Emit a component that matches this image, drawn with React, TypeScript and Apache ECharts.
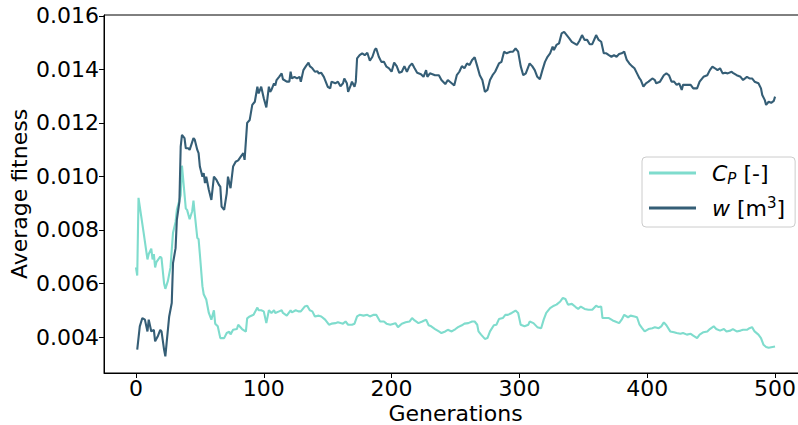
import React, { useEffect, useRef } from "react";
import * as echarts from "echarts";

const xTicks = [0, 100, 200, 300, 400, 500];
const yTicks = [0.004, 0.006, 0.008, 0.01, 0.012, 0.014, 0.016];

const cpGen = [0,1,2,6,9,10,12,13,14,15,16,19,20,22,23,25,27,29,31,32,35,36,39,40,42,44,45,46,48,49,50,52,53,55,57,59,61,62,64,66,69,71,73,74,76,79,80,83,86,87,89,92,95,96,98,100,102,104,106,108,109,112,114,115,118,121,122,125,127,129,132,134,136,138,140,143,145,148,151,153,156,158,162,164,166,169,171,173,175,178,181,183,186,188,191,194,196,199,203,205,208,211,214,216,218,221,224,227,229,231,234,237,239,242,244,247,250,252,255,257,260,263,265,267,268,270,273,275,277,280,282,284,287,289,291,294,297,299,301,304,307,308,311,314,317,319,321,324,327,329,332,334,336,338,341,344,346,348,351,354,357,360,362,364,365,368,370,373,375,378,380,382,385,387,390,392,394,396,398,401,404,406,409,411,413,415,418,421,423,426,428,431,434,436,439,441,444,447,449,452,454,457,460,462,465,467,470,473,475,478,480,482,484,487,489,491,493,495,498,500];
const cpVal = [0.0066,0.0063,0.0092,0.0079,0.0069,0.0071,0.0073,0.0069,0.0071,0.0066,0.0068,0.007,0.00695,0.006,0.0058,0.0061,0.0066,0.0079,0.0083,0.00875,0.0093,0.0104,0.0088,0.00875,0.0084,0.0087,0.0091,0.0086,0.0077,0.00766,0.0071,0.0059,0.0056,0.0054,0.0049,0.00465,0.005,0.0045,0.0044,0.00396,0.00396,0.00415,0.0042,0.0041,0.00427,0.0043,0.00446,0.0043,0.0042,0.0047,0.00477,0.00483,0.0051,0.005,0.005,0.00496,0.00452,0.005,0.0049,0.005,0.0049,0.00496,0.005,0.0049,0.0048,0.005,0.00492,0.005,0.00496,0.00496,0.00514,0.00517,0.005,0.00496,0.00477,0.0048,0.00477,0.00465,0.00446,0.0045,0.00452,0.00455,0.0045,0.00458,0.00446,0.00446,0.0045,0.00477,0.00483,0.0048,0.00483,0.00477,0.00483,0.00483,0.00458,0.00458,0.0045,0.00446,0.00452,0.00437,0.0045,0.00455,0.00458,0.00471,0.00462,0.00452,0.00458,0.00465,0.00444,0.0044,0.0043,0.00421,0.00415,0.00421,0.00427,0.00421,0.0043,0.00437,0.00444,0.0045,0.00452,0.00458,0.00458,0.00446,0.00421,0.00409,0.00393,0.00396,0.00421,0.00444,0.00446,0.00467,0.00471,0.00483,0.00483,0.0049,0.00499,0.0049,0.00446,0.0044,0.00446,0.00458,0.00452,0.00437,0.00433,0.00465,0.0049,0.00508,0.00517,0.00521,0.00533,0.00546,0.00542,0.00521,0.00524,0.00512,0.00505,0.00514,0.00505,0.00502,0.00502,0.00517,0.00512,0.00514,0.00471,0.00471,0.00471,0.00462,0.00458,0.00452,0.00465,0.00483,0.00474,0.0048,0.00477,0.00474,0.00446,0.00433,0.00421,0.0043,0.00433,0.00437,0.00433,0.0044,0.00455,0.00444,0.00421,0.00418,0.00415,0.00412,0.00415,0.00409,0.00412,0.00405,0.00396,0.00409,0.00418,0.00421,0.0043,0.0044,0.0043,0.00424,0.0043,0.00421,0.00424,0.0043,0.00421,0.00424,0.00427,0.00427,0.00433,0.00437,0.00421,0.00409,0.00396,0.00371,0.00363,0.0036,0.00363,0.00365];

const wGen = [1,3,5,7,9,10,12,14,15,17,19,20,22,23,24,26,28,29,31,32,34,35,36,38,39,41,42,45,46,48,49,50,52,53,54,55,57,59,61,63,65,66,67,69,71,72,74,76,78,80,82,84,85,87,89,91,93,95,96,98,100,102,104,105,106,108,109,110,112,114,115,118,120,121,122,124,126,128,129,131,133,135,136,138,140,142,143,145,147,148,150,152,153,156,158,160,162,163,165,166,168,169,171,172,173,175,177,179,181,183,185,187,188,190,192,194,196,198,200,202,204,206,208,210,212,214,216,218,220,223,225,227,228,230,232,234,237,239,242,244,247,249,251,253,255,257,259,261,263,265,267,269,271,273,275,277,279,281,284,286,288,290,293,295,297,299,301,303,305,308,310,312,314,316,318,320,322,324,326,327,329,331,333,335,337,339,341,343,345,347,349,351,353,355,357,359,360,362,364,366,368,370,372,374,376,378,380,382,384,386,388,390,392,394,395,397,399,401,404,406,407,410,413,415,417,419,421,423,425,427,428,431,434,436,439,441,444,447,449,451,453,455,457,459,461,463,466,467,470,473,475,478,480,482,484,487,489,490,492,493,495,497,499,500];
const wVal = [0.00353,0.0044,0.00471,0.00465,0.00421,0.00465,0.00421,0.00427,0.00384,0.00402,0.00427,0.00421,0.00353,0.00328,0.00378,0.00477,0.00527,0.00676,0.00732,0.00838,0.00906,0.01111,0.01155,0.01143,0.01105,0.01105,0.01099,0.01143,0.01137,0.01099,0.01087,0.01037,0.00999,0.01012,0.00975,0.00999,0.0095,0.00912,0.00999,0.00987,0.00968,0.00962,0.00887,0.00875,0.00937,0.00999,0.00956,0.01037,0.01055,0.0106,0.01074,0.01087,0.01062,0.012,0.01211,0.01267,0.01279,0.01335,0.0131,0.01335,0.01292,0.01258,0.01335,0.01316,0.01323,0.01348,0.0134,0.0136,0.01372,0.01385,0.01363,0.01354,0.01354,0.01391,0.01366,0.01372,0.01366,0.01372,0.01354,0.01397,0.01412,0.01425,0.01412,0.01404,0.01391,0.01393,0.01385,0.01387,0.01372,0.0136,0.01335,0.01329,0.01354,0.01348,0.01354,0.01337,0.01348,0.01366,0.01348,0.01316,0.0134,0.01354,0.01335,0.01354,0.01441,0.01453,0.0146,0.01453,0.01462,0.01432,0.01447,0.01475,0.01478,0.01447,0.01428,0.01428,0.0141,0.01404,0.01391,0.01425,0.01412,0.01387,0.01391,0.01412,0.01391,0.01412,0.01422,0.01404,0.01387,0.01382,0.01372,0.01397,0.01372,0.01385,0.01382,0.01378,0.01378,0.0136,0.01345,0.0136,0.01348,0.0134,0.01378,0.01391,0.01412,0.01404,0.01422,0.01416,0.01435,0.01445,0.01412,0.01378,0.0136,0.01316,0.01323,0.0136,0.01378,0.01391,0.01422,0.01428,0.01466,0.0146,0.01466,0.01466,0.01478,0.01466,0.01412,0.01378,0.01385,0.01422,0.01412,0.01397,0.01372,0.01363,0.01397,0.01428,0.01447,0.0146,0.01485,0.01472,0.01491,0.01497,0.01534,0.0154,0.01528,0.01516,0.01503,0.01497,0.01491,0.01507,0.01528,0.0151,0.0151,0.01494,0.01494,0.01516,0.01528,0.0151,0.01503,0.0146,0.0146,0.01453,0.01447,0.01453,0.01447,0.01457,0.0146,0.01466,0.01435,0.01422,0.01412,0.01404,0.01385,0.01366,0.0136,0.01335,0.01348,0.01354,0.01366,0.0136,0.01348,0.01354,0.01378,0.01385,0.01378,0.01354,0.01354,0.01342,0.01348,0.01323,0.01342,0.01342,0.01342,0.01329,0.01329,0.01354,0.01372,0.01378,0.01397,0.0141,0.01404,0.01397,0.01404,0.01385,0.01387,0.01385,0.01391,0.01387,0.01378,0.01372,0.0136,0.01372,0.01366,0.01366,0.01354,0.01348,0.01329,0.01304,0.01285,0.01267,0.01279,0.01275,0.01282,0.01298];

const FONT = "DejaVu Sans";
const CP_COLOR = "#7FDCCD";
const W_COLOR = "#355E76";

export default function App() {
  const ref = useRef<HTMLDivElement>(null);
  useEffect(() => {
    if (!ref.current) return;
    const chart = echarts.init(ref.current, undefined, { renderer: "svg" });
    const cpData = cpGen.map((g, i) => [g, cpVal[i]]);
    const wData = wGen.map((g, i) => [g, wVal[i]]);
    chart.setOption({
      animation: false,
      backgroundColor: "#ffffff",
      textStyle: { fontFamily: FONT },
      grid: {
        left: 104,
        top: 15,
        right: -9,
        bottom: 52,
        containLabel: false,
        outerBoundsMode: "none",
        show: true,
        borderColor: "#000000",
        borderWidth: 1,
        backgroundColor: "transparent",
      },
      legend: {
        orient: "vertical",
        left: 642,
        top: 157,
        padding: [5, 10, 8, 7],
        itemGap: 9,
        itemWidth: 47,
        itemHeight: 3,
        icon: "rect",
        borderColor: "#cccccc",
        borderWidth: 1,
        borderRadius: 4,
        backgroundColor: "rgba(255,255,255,0.8)",
        data: ["cp", "w"],
        formatter: (name: string) =>
          name === "cp" ? "{i|C}{sub|P}{n| [-]}" : "{i|w}{n| [m}{sup|3}{n|]}",
        textStyle: {
          fontFamily: FONT,
          fontSize: 22,
          color: "#000000",
          padding: [0, 0, 0, 11],
          rich: {
            i: { fontFamily: FONT, fontSize: 22, fontStyle: "italic", lineHeight: 26, color: "#000" },
            n: { fontFamily: FONT, fontSize: 22, lineHeight: 26, color: "#000" },
            sub: { fontFamily: FONT, fontSize: 15, fontStyle: "italic", lineHeight: 15, verticalAlign: "bottom", color: "#000" },
            sup: { fontFamily: FONT, fontSize: 15, lineHeight: 15, verticalAlign: "top", color: "#000" },
          },
        },
      },
      xAxis: {
        type: "value",
        min: -25,
        max: 525,
        name: "Generations",
        nameLocation: "middle",
        nameGap: 30,
        nameMoveOverlap: false,
        nameTextStyle: { fontFamily: FONT, fontSize: 22, lineHeight: 20, color: "#000" },
        axisLine: { show: true, onZero: false, lineStyle: { color: "#000", width: 1 } },
        axisTick: { show: true, length: 5, lineStyle: { color: "#000" }, customValues: xTicks },
        axisLabel: {
          fontFamily: FONT,
          fontSize: 22,
          color: "#000",
          margin: 4,
          customValues: xTicks,
          formatter: (v: number) => String(Math.round(v)),
        },
        splitLine: { show: false },
      },
      yAxis: {
        type: "value",
        min: 0.002657,
        max: 0.01603,
        name: "Average fitness",
        nameLocation: "middle",
        nameGap: 74,
        nameMoveOverlap: false,
        nameTextStyle: { fontFamily: FONT, fontSize: 22, color: "#000" },
        axisLine: { show: true, onZero: false, lineStyle: { color: "#000", width: 1 } },
        axisTick: { show: true, length: 5, lineStyle: { color: "#000" }, customValues: yTicks },
        axisLabel: {
          fontFamily: FONT,
          fontSize: 22,
          color: "#000",
          margin: 5,
          customValues: yTicks,
          formatter: (v: number) => v.toFixed(3),
        },
        splitLine: { show: false },
      },
      series: [
        {
          name: "cp",
          type: "line",
          data: cpData,
          showSymbol: false,
          symbol: "none",
          color: CP_COLOR,
          lineStyle: { color: CP_COLOR, width: 2.1 },
        },
        {
          name: "w",
          type: "line",
          data: wData,
          showSymbol: false,
          symbol: "none",
          color: W_COLOR,
          lineStyle: { color: W_COLOR, width: 2.1 },
        },
      ],
    });
    return () => chart.dispose();
  }, []);
  return (
    <div
      ref={ref}
      style={{ position: "fixed", left: 0, top: 0, width: 798, height: 425 }}
    />
  );
}
